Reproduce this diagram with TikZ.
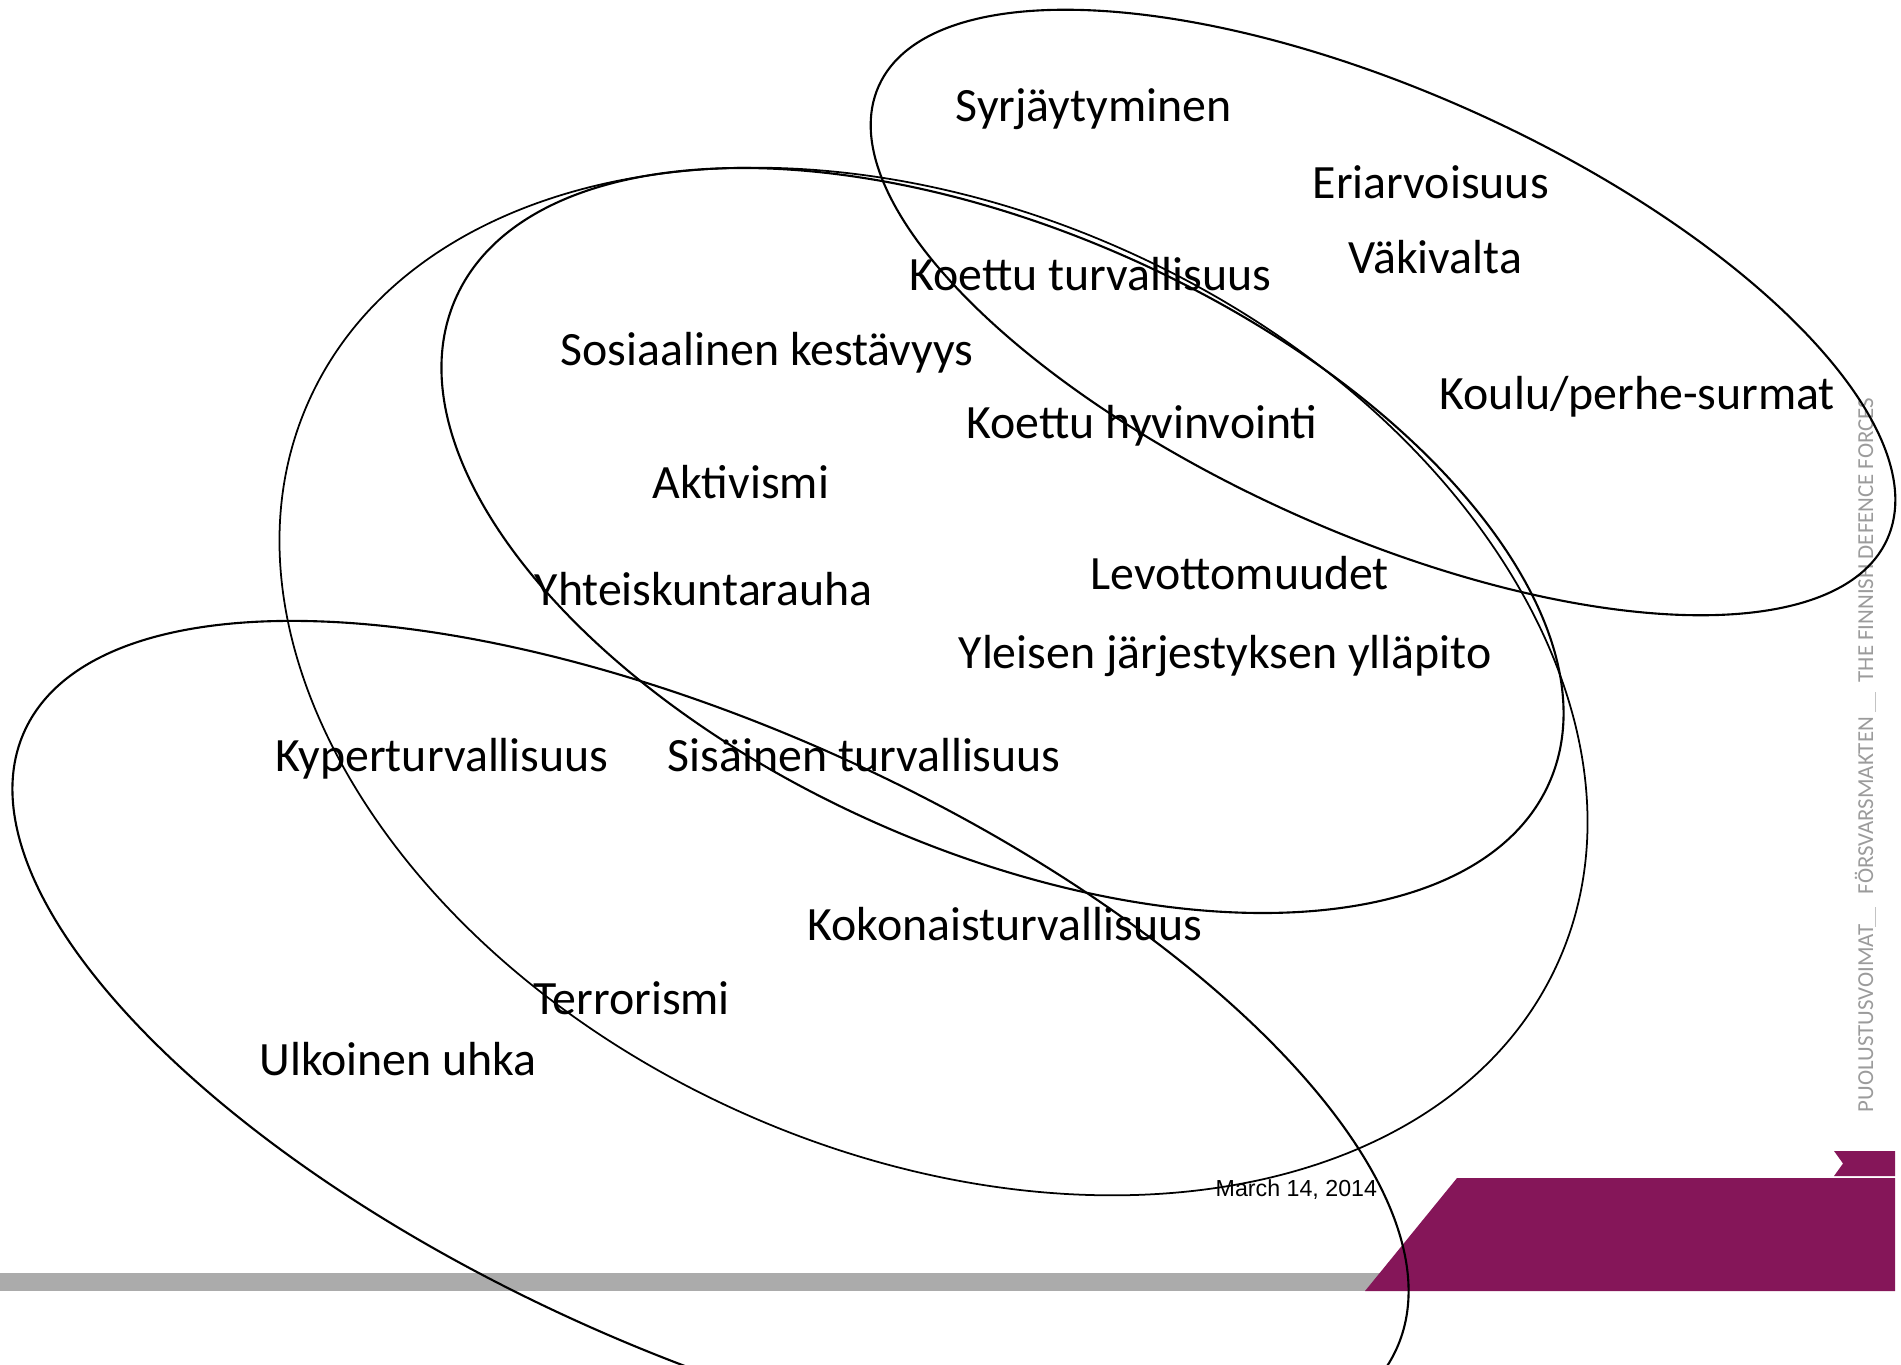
\documentclass[tikz,border=0pt]{standalone}
\usepackage{fontspec}
\setmainfont{Carlito}
\newfontfamily\datefont{Liberation Sans}
\definecolor{fdpurple}{RGB}{133,22,89}
\definecolor{fdgray}{RGB}{171,171,171}
\definecolor{fdside}{RGB}{155,155,155}
\begin{document}
\begin{tikzpicture}[x=0.01cm,y=-0.01cm,
  lbl/.style={anchor=base west, inner sep=0pt, font=\fontsize{13.6}{16}\selectfont},
  venn/.style={draw=black, line width=0.6pt},
  side/.style={anchor=base west, inner sep=0pt, rotate=90, text=fdside, font=\fontsize{6.5}{8}\selectfont},
  sep/.style={draw=fdside!60, line width=0.3pt}]
\useasboundingbox (0,0) rectangle (1901,1364);
\clip (0,0) rectangle (1901,1364);
% footer decorations
\fill[fdgray] (0,1273) rectangle (1420,1291);
\fill[fdpurple] (1365,1291) -- (1457,1178) -- (1895,1178) -- (1895,1291) -- cycle;
\fill[fdpurple] (1834,1151) -- (1895,1151) -- (1895,1176) -- (1834,1176) -- (1843,1163.5) -- cycle;
% side text
\node[side] (s1) at (1873,1113) {PUOLUSTUSVOIMAT};
\node[side] (s2) at (1873,895) {FÖRSVARSMAKTEN};
\node[side] (s3) at (1873,683) {THE FINNISH DEFENCE FORCES};
\draw[sep] (1875,907) -- (1875,927);
\draw[sep] (1875,692) -- (1875,712);
% labels
\node[lbl] (t1) at (955,122) {Syrjäytyminen};
\node[lbl] (t2) at (1312,199) {Eriarvoisuus};
\node[lbl] (t3) at (1348,274) {Väkivalta};
\node[lbl] (t4) at (909,291) {Koettu turvallisuus};
\node[lbl] (t5) at (560,365) {Sosiaalinen kestävyys};
\node[lbl] (t6) at (1439,409) {Koulu/perhe-surmat};
\node[lbl] (t7) at (966,438) {Koettu hyvinvointi};
\node[lbl] (t8) at (652,498) {Aktivismi};
\node[lbl] (t9) at (534,605) {Yhteiskuntarauha};
\node[lbl] (t10) at (1090,589) {Levottomuudet};
\node[lbl] (t11) at (958,668) {Yleisen järjestyksen ylläpito};
\node[lbl] (t12) at (275,771) {Kyperturvallisuus};
\node[lbl] (t13) at (667,771) {Sisäinen turvallisuus};
\node[lbl] (t14) at (807,940) {Kokonaisturvallisuus};
\node[lbl] (t15) at (533,1014) {Terrorismi};
\node[lbl] (t16) at (259,1075) {Ulkoinen uhka};
\node[anchor=base west, inner sep=0pt, font=\datefont\fontsize{6.6}{8}\selectfont] (date) at (1215,1196) {March 14, 2014};
% ellipses
\draw[venn, rotate around={-24.2:(1383,312.5)}] (1383,312.5) ellipse [x radius=5.525cm, y radius=2.20cm];
\draw[venn, line width=0.5pt, rotate around={-24.2:(933.5,681.5)}] (933.5,681.5) ellipse [x radius=6.844cm, y radius=4.715cm];
\draw[venn, rotate around={-23.9:(1002.5,540.5)}] (1002.5,540.5) ellipse [x radius=5.977cm, y radius=3.093cm];
\draw[venn, rotate around={-24.2:(710.5,1040)}] (710.5,1040) ellipse [x radius=7.519cm, y radius=3.11cm];
\end{tikzpicture}
\end{document}
